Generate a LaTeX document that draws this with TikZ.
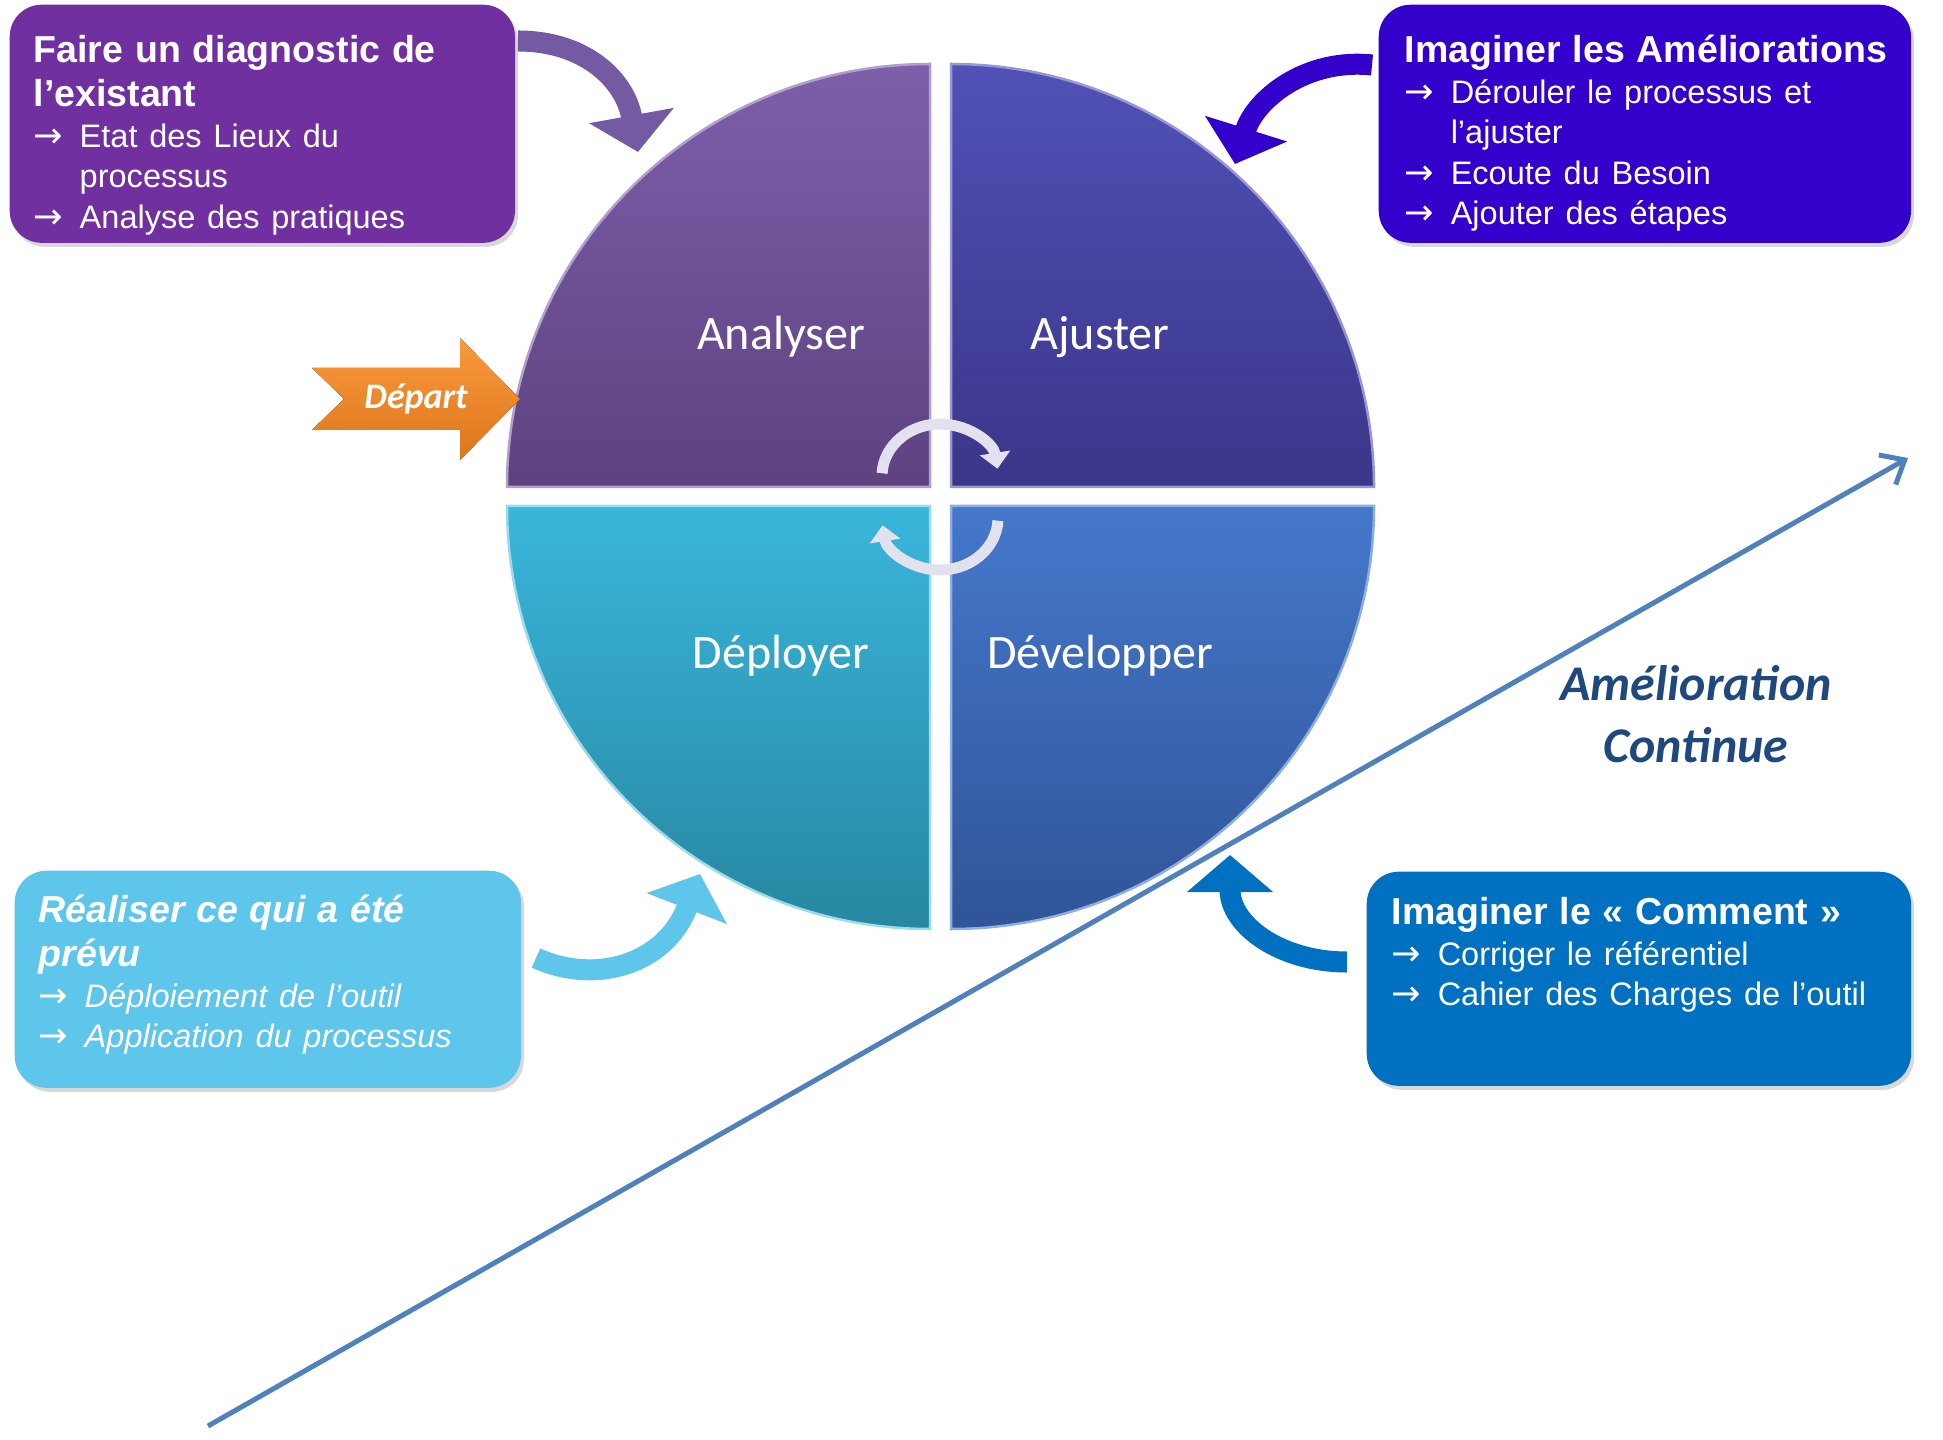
\documentclass[tikz,border=0pt]{standalone}
\usepackage{fontspec}
\setmainfont{Liberation Sans}
\newfontfamily\calibri{Carlito}
\newfontfamily\fleches{DejaVu Sans}
\usetikzlibrary{arrows.meta,shadows}
\setlength{\parindent}{0pt}
\definecolor{diagviolet}{HTML}{7030A0}
\definecolor{amelioindigo}{HTML}{3300CC}
\definecolor{realisciel}{HTML}{5EC5EB}
\definecolor{commentbleu}{HTML}{0070C0}
\definecolor{flecheviolet}{HTML}{7459A3}
\definecolor{analyserhaut}{HTML}{7D5FAA}
\definecolor{analyserbas}{HTML}{5D4280}
\definecolor{ajusterhaut}{HTML}{5151B7}
\definecolor{ajusterbas}{HTML}{3B3689}
\definecolor{deployerhaut}{HTML}{3AB6DB}
\definecolor{deployerbas}{HTML}{2787A1}
\definecolor{developperhaut}{HTML}{4578CB}
\definecolor{developperbas}{HTML}{305497}
\definecolor{departhaut}{HTML}{FA9A3C}
\definecolor{departbas}{HTML}{DE761C}
\definecolor{tourblanc}{HTML}{E4E1EE}
\definecolor{progbleu}{HTML}{4F81BD}
\definecolor{titrebleu}{HTML}{1F497D}
\newcommand{\titre}{\bfseries\fontsize{10.67}{12.52}\selectfont}
\newcommand{\puce}{\normalfont\fontsize{9.25}{11.52}\selectfont}
\newcommand{\amorce}{\rule{0pt}{0.30cm}}
\newcommand{\pointe}[1]{\par\noindent\hangindent=0.46cm\hangafter=1\makebox[0.46cm][l]{\fleches\upshape\fontsize{10}{10}\selectfont →}#1\par}

\begin{document}
\begin{tikzpicture}[x=0.01cm, y=-0.01cm,
    boite/.style={rectangle, rounded corners=0.32cm, anchor=north west, inner sep=0pt,
        drop shadow={opacity=0.3, shadow xshift=0.03cm, shadow yshift=-0.04cm}},
    texte/.style={anchor=north west, inner sep=0pt, text=white, align=left},
    etiq/.style={anchor=base, inner sep=0pt, text=white, font=\calibri\fontsize{13.66}{16}\selectfont},
    fleche/.style={line width=0.21cm, -{Triangle[width=0.84cm, length=0.37cm]}},
    rond/.style={line width=0.11cm, tourblanc, -{Triangle[width=0.30cm, length=0.16cm]}}]
    \path[use as bounding box, fill=white] (0,0) rectangle (1943,1440);

    % les quatre quarts
    \draw[top color=analyserhaut, bottom color=analyserbas, draw=analyserhaut!60!white, line width=0.025cm]
        (930,487) -- (507,487) arc[start angle=180, end angle=270, radius=423] -- cycle;
    \draw[top color=ajusterhaut, bottom color=ajusterbas, draw=ajusterhaut!60!white, line width=0.025cm]
        (951,487) -- (951,64) arc[start angle=270, end angle=360, radius=423] -- cycle;
    \draw[top color=developperhaut, bottom color=developperbas, draw=developperhaut!60!white, line width=0.025cm]
        (951,506) -- (1374,506) arc[start angle=0, end angle=90, radius=423] -- cycle;
    \draw[top color=deployerhaut, bottom color=deployerbas, draw=deployerhaut!50!white, line width=0.025cm]
        (930,506) -- (930,929) arc[start angle=90, end angle=180, radius=423] -- cycle;

    \node[etiq] (analyser) at (781,350) {Analyser};
    \node[etiq] (ajuster) at (1100,350) {Ajuster};
    \node[etiq] (deployer) at (781,669) {Déployer};
    \node[etiq] (developper) at (1100,669) {Développer};

    % fleches du centre
    \coordinate (centre) at (940,497);
    \draw[rond] (940,476) ++(183:58 and 52) arc[start angle=183, end angle=352, x radius=58, y radius=52];
    \draw[rond] (940,518) ++(3:58 and 52) arc[start angle=3, end angle=172, x radius=58, y radius=52];

    % les boites
    \node[boite, fill=diagviolet, minimum width=5.05cm, minimum height=2.38cm] (diag) at (9,4) {};
    \node[boite, fill=amelioindigo, minimum width=5.32cm, minimum height=2.38cm] (amelio) at (1378,4) {};
    \node[boite, fill=realisciel, minimum width=5.06cm, minimum height=2.17cm] (realis) at (14,870) {};
    \node[boite, fill=commentbleu, minimum width=5.44cm, minimum height=2.14cm] (comment) at (1366,871) {};

    \node[texte, text width=4.8cm] (diagtexte) at (33,32) {\titre\amorce Faire un diagnostic de\newline l’existant\par
        \puce\pointe{Etat des Lieux du\newline processus}\pointe{Analyse des pratiques}};
    \node[texte, text width=5.05cm] (ameliotexte) at (1404,32) {\titre\amorce Imaginer les Améliorations\par
        \puce\pointe{Dérouler le processus et\newline l’ajuster}\pointe{Ecoute du Besoin}\pointe{Ajouter des étapes}};
    \node[texte, text width=4.7cm] (realistexte) at (38,892) {\titre\itshape\amorce Réaliser ce qui a été\newline prévu\par
        \puce\itshape\pointe{Déploiement de l’outil}\pointe{Application du processus}};
    \node[texte, text width=5.05cm] (commenttexte) at (1391,894) {\titre\amorce Imaginer le « Comment »\par
        \puce\pointe{Corriger le référentiel}\pointe{Cahier des Charges de l’outil}};

    % fleches courbes
    \coordinate (d1) at (518,41);
    \coordinate (d2) at (638,152);
    \coordinate (a1) at (1372,65);
    \coordinate (a2) at (1235,164);
    \coordinate (r1) at (536,958);
    \coordinate (r2) at (700,874);
    \coordinate (c1) at (1347,962);
    \coordinate (c2) at (1230,855);
    \draw[fleche, flecheviolet] (d1) .. controls (585,41) and (625,80) .. (d2);
    \draw[fleche, amelioindigo] (a1) .. controls (1305,58) and (1255,100) .. (a2);
    \draw[fleche, realisciel] (r1) .. controls (595,985) and (665,965) .. (r2);
    \draw[fleche, commentbleu] (c1) .. controls (1280,962) and (1230,925) .. (c2);

    % depart
    \fill[top color=departhaut, bottom color=departbas] (312,368) -- (460,368) -- (460,338) -- (520,399)
        -- (460,460) -- (460,430) -- (312,430) -- (344,399) -- cycle;
    \node[font=\calibri\bfseries\itshape\fontsize{10.2}{12}\selectfont, text=white] (depart) at (416,399) {Départ};

    % amelioration continue
    \coordinate (progdebut) at (208,1426);
    \coordinate (progfin) at (1908,458);
    \draw[progbleu, line width=0.05cm, -{Straight Barb[length=0.2cm, width=0.34cm]}] (progdebut) -- (progfin);
    \node[font=\calibri\bfseries\itshape\fontsize{14.2}{17.64}\selectfont, text=titrebleu, text width=4cm,
        align=center, anchor=north, inner sep=0pt] (amelioration) at (1696,660) {\rule{0pt}{0.40cm}Amélioration\\Continue};
\end{tikzpicture}
\end{document}
